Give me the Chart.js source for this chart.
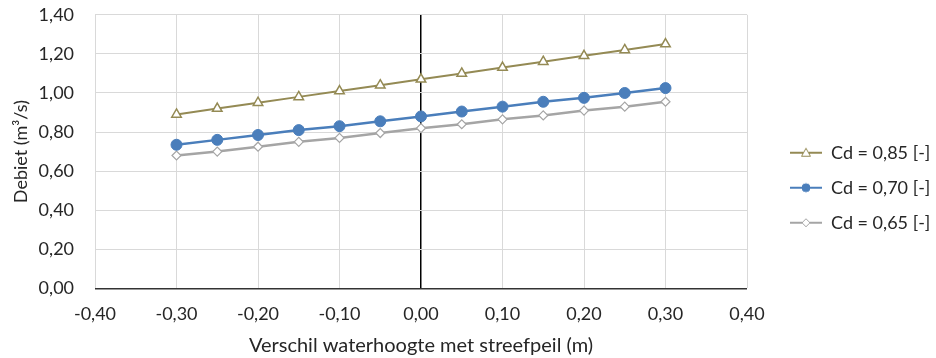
<!DOCTYPE html>
<html>
<head>
<meta charset="utf-8">
<script src="https://cdn.jsdelivr.net/npm/chart.js@4"></script>
<style>
  html, body { margin: 0; padding: 0; background: #fff; }
  #wrap { width: 936px; height: 358px; }
</style>
</head>
<body>
<div id="wrap"><canvas id="chart" width="936" height="358"></canvas></div>
<script>
'use strict';

const X_VALUES = [-0.30, -0.25, -0.20, -0.15, -0.10, -0.05, 0.00, 0.05, 0.10, 0.15, 0.20, 0.25, 0.30];
const CD_085 = [0.89, 0.92, 0.95, 0.98, 1.01, 1.04, 1.07, 1.10, 1.13, 1.16, 1.19, 1.22, 1.25];
const CD_070 = [0.735, 0.76, 0.785, 0.81, 0.83, 0.855, 0.88, 0.905, 0.93, 0.955, 0.975, 1.0, 1.025];
const CD_065 = [0.68, 0.70, 0.725, 0.75, 0.77, 0.795, 0.82, 0.84, 0.865, 0.885, 0.91, 0.93, 0.955];
const SERIES_LABELS = ['Cd = 0,85 [-]', 'Cd = 0,70 [-]', 'Cd = 0,65 [-]'];

const OLIVE = '#948A54';
const BLUE = '#4A7EBB';
const GREY = '#A5A5A5';
const TEXT = '#262626';
const FONT = 'Lato, "Open Sans", sans-serif';
const FS = 18;

const toPoints = (ys) => X_VALUES.map((x, i) => ({ x, y: ys[i] }));
const comma = (v) => v.toFixed(2).replace('.', ',');

// legend swatch: short line with the marker in the middle, like Excel
// (blank space on the left keeps it away from the plot)
const SW_LEFT = 26;
const SW_LINE = 32;
function swatch(color, style, fill) {
  const c = document.createElement('canvas');
  c.width = SW_LEFT + SW_LINE;
  c.height = 14;
  const g = c.getContext('2d');
  const cx = SW_LEFT + SW_LINE / 2;
  g.strokeStyle = color;
  g.lineWidth = 2;
  g.beginPath();
  g.moveTo(SW_LEFT, 7);
  g.lineTo(SW_LEFT + SW_LINE, 7);
  g.stroke();
  g.lineWidth = 1;
  g.fillStyle = fill;
  g.beginPath();
  if (style === 'triangle') {
    g.moveTo(cx, 2.5); g.lineTo(cx + 4.5, 10.5); g.lineTo(cx - 4.5, 10.5); g.closePath();
  } else if (style === 'circle') {
    g.arc(cx, 7, 4, 0, Math.PI * 2);
  } else {
    g.moveTo(cx, 3); g.lineTo(cx + 4, 7); g.lineTo(cx, 11); g.lineTo(cx - 4, 7); g.closePath();
  }
  g.fill();
  g.stroke();
  return c;
}

const swatches = [
  swatch(OLIVE, 'triangle', '#fff'),
  swatch(BLUE, 'circle', BLUE),
  swatch(GREY, 'rectRot', '#fff'),
];

// fixed legend width so the plot ends where Excel's does
const legendWidth = {
  id: 'legendWidth',
  afterInit(chart) {
    const lg = chart.legend;
    const fit = lg.fit.bind(lg);
    lg.fit = function () {
      fit();
      this.width = 189;
    };
  },
};

new Chart(document.getElementById('chart'), {
  type: 'line',
  data: {
    datasets: [
      {
        label: SERIES_LABELS[0],
        data: toPoints(CD_085),
        borderColor: OLIVE,
        backgroundColor: '#fff',
        pointStyle: 'triangle',
        pointRadius: 5.5,
        pointBorderWidth: 1.5,
        borderWidth: 2,
      },
      {
        label: SERIES_LABELS[1],
        data: toPoints(CD_070),
        borderColor: BLUE,
        backgroundColor: BLUE,
        pointStyle: 'circle',
        pointRadius: 5.5,
        pointBorderWidth: 1,
        borderWidth: 2.5,
      },
      {
        label: SERIES_LABELS[2],
        data: toPoints(CD_065),
        borderColor: GREY,
        backgroundColor: '#fff',
        pointStyle: 'rectRot',
        pointRadius: 4.5,
        pointBorderWidth: 1.2,
        borderWidth: 2.5,
      },
    ],
  },
  plugins: [legendWidth],
  options: {
    responsive: false,
    animation: false,
    layout: { padding: { left: 10, right: 0, top: 8.2, bottom: 0 } },
    plugins: {
      legend: {
        position: 'right',
        // empty title only nudges the items down a little
        title: { display: true, text: '', font: { size: 1 }, padding: { top: 0, bottom: 8 } },
        labels: {
          usePointStyle: true,
          pointStyleWidth: SW_LEFT + SW_LINE,
          color: TEXT,
          font: { family: FONT, size: FS },
          padding: 17,
          generateLabels: (chart) => chart.data.datasets.map((ds, i) => ({
            text: ds.label,
            pointStyle: swatches[i],
            datasetIndex: i,
            hidden: false,
            lineWidth: 0,
            strokeStyle: 'transparent',
            fillStyle: 'transparent',
            fontColor: TEXT,
          })),
        },
      },
      tooltip: { enabled: false },
    },
    scales: {
      x: {
        type: 'linear',
        min: -0.4,
        max: 0.4,
        ticks: {
          stepSize: 0.1,
          color: TEXT,
          font: { family: FONT, size: FS },
          padding: 4,
          callback: (v) => comma(v),
        },
        grid: {
          color: (ctx) => (Math.abs(ctx.tick.value) < 1e-9 ? '#000' : '#D9D9D9'),
          lineWidth: (ctx) => (Math.abs(ctx.tick.value) < 1e-9 ? 1.5 : 1),
          drawTicks: true,
          tickLength: 11,
          tickColor: 'rgba(0,0,0,0)',
        },
        border: { display: false },
        title: {
          display: true,
          text: 'Verschil waterhoogte met streefpeil (m)',
          color: TEXT,
          font: { family: FONT, size: 20 },
          padding: { top: 5, bottom: 0 },
        },
      },
      y: {
        min: 0,
        max: 1.4,
        ticks: {
          stepSize: 0.2,
          color: TEXT,
          font: { family: FONT, size: FS },
          padding: 4,
          callback: (v) => comma(v),
        },
        grid: {
          color: (ctx) => (ctx.tick.value === 0 ? '#333' : '#D9D9D9'),
          lineWidth: (ctx) => (ctx.tick.value === 0 ? 1.5 : 1),
          drawTicks: true,
          tickLength: 17,
          tickColor: 'rgba(0,0,0,0)',
        },
        border: { display: false },
        title: {
          display: true,
          text: 'Debiet (m³/s)',
          color: TEXT,
          font: { family: FONT, size: FS },
          padding: { top: 0, bottom: 3 },
        },
      },
    },
  },
});
</script>
</body>
</html>
